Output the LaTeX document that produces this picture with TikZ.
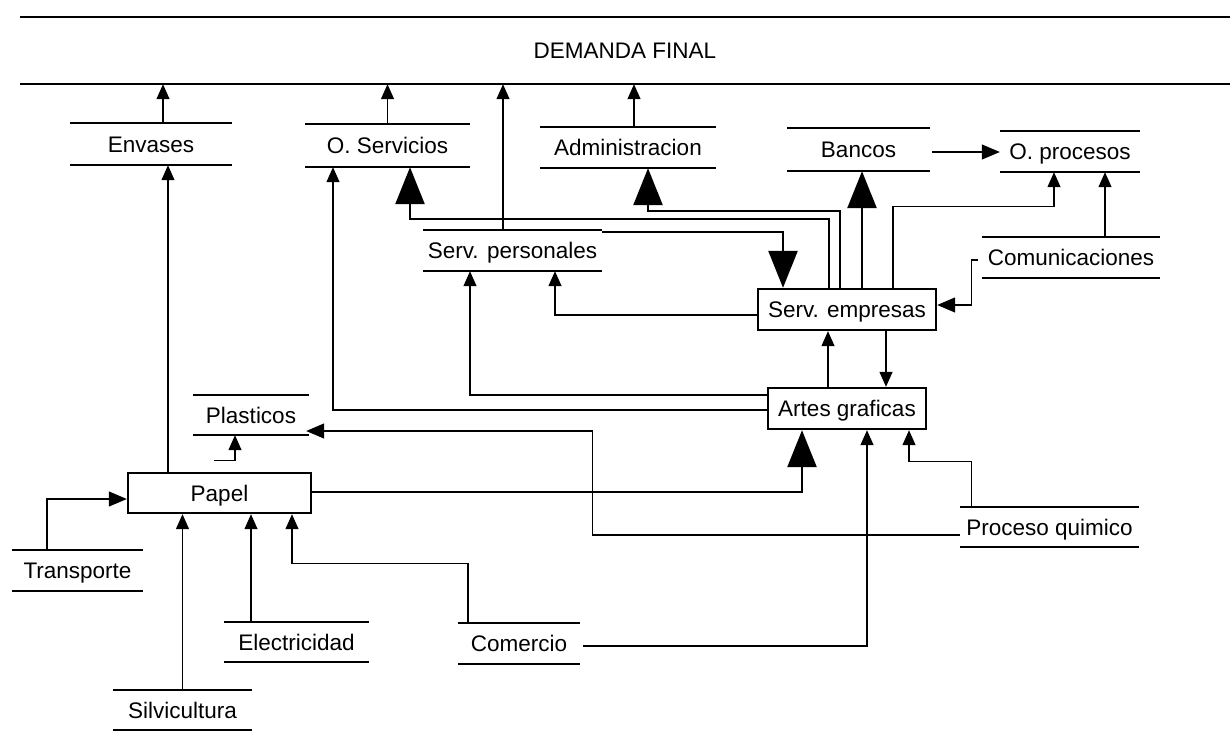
\documentclass[tikz,border=0pt]{standalone}
\usepackage{fontspec}
\setmainfont{Liberation Sans}
\usetikzlibrary{arrows.meta}
\begin{document}
\begin{tikzpicture}[x=1pt,y=-1pt,
  sec/.style={inner sep=0pt, font=\fontsize{22.5}{25}\selectfont, text height=16pt, text depth=0pt},
  boxn/.style={sec, draw, line width=2.4pt},
  rule/.style={line width=1.7pt},
  conn/.style={line width=1.3pt},
  sarr/.style={conn, -{Triangle[length=15pt,width=13pt]}},
  marr/.style={conn, -{Triangle[length=18pt,width=15pt]}},
  barr/.style={line width=2.6pt, -{Triangle[length=37pt,width=29pt]}},
]
\fill[white] (0,0) rectangle (1230,731);
\useasboundingbox (0,0) rectangle (1230,731);

% label sections (text between two rules)
\node[sec, minimum width=1210pt, minimum height=67pt] (df) at (625,50.5) {DEMANDA FINAL};
\node[sec, minimum width=162pt, minimum height=42pt] (env) at (151,144) {Envases};
\node[sec, minimum width=165pt, minimum height=43pt] (oser) at (387.5,145.5) {O. Servicios};
\node[sec, minimum width=176pt, minimum height=41pt] (adm) at (628,147.5) {Administracion};
\node[sec, minimum width=143pt, minimum height=43pt] (ban) at (858.5,149.5) {Bancos};
\node[sec, minimum width=140pt, minimum height=41pt] (opr) at (1070,151.5) {O. procesos};
\node[sec, minimum width=179pt, minimum height=41pt] (sper) at (512.5,250.5) {Serv. personales};
\node[sec, minimum width=178pt, minimum height=41pt] (com) at (1071,257.5) {Comunicaciones};
\node[sec, minimum width=116pt, minimum height=40pt] (pla) at (251,415) {Plasticos};
\node[sec, minimum width=179pt, minimum height=40pt] (pq) at (1049.5,527) {Proceso quimico};
\node[sec, minimum width=131pt, minimum height=41pt] (tra) at (77.5,570.5) {Transporte};
\node[sec, minimum width=145pt, minimum height=40pt] (ele) at (296.5,642) {Electricidad};
\node[sec, minimum width=122pt, minimum height=41pt] (comr) at (519,643.5) {Comercio};
\node[sec, minimum width=139pt, minimum height=40pt] (sil) at (182.5,710) {Silvicultura};

% boxed sectors
\node[boxn, minimum width=178pt, minimum height=41pt] (semp) at (847,309.5) {Serv. empresas};
\node[boxn, minimum width=158pt, minimum height=41pt] (art) at (847,408.5) {Artes graficas};
\node[boxn, minimum width=183pt, minimum height=40pt] (pap) at (219.5,493) {Papel};

\foreach \n in {df,env,oser,adm,ban,opr,sper,com,pla,pq,tra,ele,comr,sil}
  \draw[rule] (\n.north west) -- (\n.north east) (\n.south west) -- (\n.south east);

% to DEMANDA FINAL
\draw[sarr] ([xshift=12pt]env.north) -- ([xshift=12pt]env.north |- df.south);
\draw[sarr] (oser.north) -- (oser.north |- df.south);
\draw[sarr] ([xshift=-9.5pt]sper.north) -- ([xshift=-9.5pt]sper.north |- df.south);
\draw[sarr] ([xshift=6pt]adm.north) -- ([xshift=6pt]adm.north |- df.south);

% from Artes graficas / Serv. empresas to the left
\draw[sarr] ([yshift=-1.5pt]art.west) -| ([xshift=-54.5pt]oser.south);
\draw[sarr] ([yshift=13.5pt]art.west) -| ([xshift=-42.5pt]sper.south);
\draw[sarr] ([yshift=-5.5pt]semp.west) -| ([xshift=42.5pt]sper.south);

% thick flows
\draw[barr] ([xshift=-18pt]semp.north) -- ++(0,-69) -| ([xshift=22.5pt]oser.south);
\draw[barr] ([xshift=-7pt]semp.north) -- ++(0,-77) -| ([xshift=20pt]adm.south);
\draw[barr] ([yshift=-2pt]sper.north east) -| ([xshift=-64pt]semp.north);
\draw[barr] ([xshift=15pt]semp.north) -- ([xshift=15pt]semp.north |- ban.south);
\draw[barr] ([yshift=1pt]pap.east) -| ([xshift=-45pt]art.south);

% right part
\draw[marr] ([xshift=2pt,yshift=-2.5pt]ban.east) -- ([yshift=-2.5pt]ban.east -| opr.west);
\draw[sarr] ([xshift=46pt]semp.north) -- ++(0,-81) -| ([xshift=-16pt]opr.south);
\draw[sarr] ([xshift=34pt]com.north) -- ([xshift=34pt]com.north |- opr.south);
\draw[marr] ([xshift=-4pt,yshift=-2.5pt]com.west) -- ++(-6,0) |- ([yshift=4.5pt]semp.east);
\draw[sarr] ([xshift=-19pt]art.north) -- ([xshift=-19pt]art.north |- semp.south);
\draw[sarr] ([xshift=39pt]semp.south) -- ([xshift=39pt]semp.south |- art.north);

% into Artes graficas from below
\draw[sarr] ([xshift=3pt,yshift=-2.5pt]comr.east) -| ([xshift=20pt]art.south);
\draw[sarr] ([xshift=12pt]pq.north west) -- ++(0,-45) -| ([xshift=62pt]art.south);

% Proceso quimico -> Plasticos
\draw[marr, shorten >=-3pt] ([yshift=-8pt]pq.west) -- ++(-367,0) |- ([yshift=-16pt]pla.east);

% Papel outputs
\draw[sarr] ([xshift=-5.5pt,yshift=11pt]pap.north) -| ([xshift=-16pt]pla.south);
\draw[sarr] ([xshift=-51.5pt]pap.north) -- ([xshift=-51.5pt]pap.north |- env.south);

% inputs to Papel
\draw[marr] ([xshift=-30.5pt]tra.north) |- ([yshift=-6pt]pap.west);
\draw[sarr] (sil.north) -- (sil.north |- pap.south);
\draw[sarr] ([xshift=-45.5pt]ele.north) -- ([xshift=-45.5pt]ele.north |- pap.south);
\draw[sarr] ([xshift=-51pt]comr.north) -- ++(0,-59) -| ([xshift=72.5pt]pap.south);
\end{tikzpicture}
\end{document}
